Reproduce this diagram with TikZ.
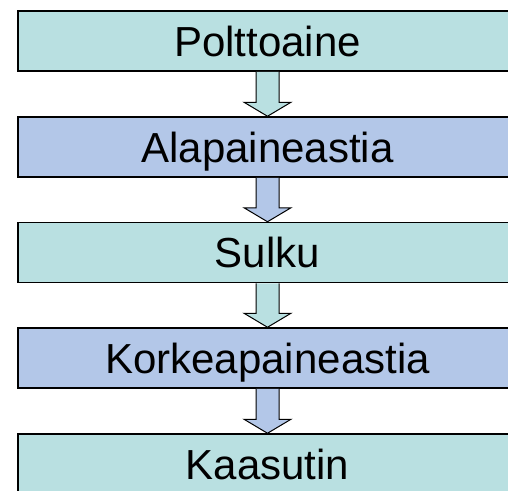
\documentclass[tikz,border=0pt]{standalone}
\usepackage{fontspec}
\setmainfont{Liberation Sans}
\usetikzlibrary{calc}
\definecolor{tealbox}{HTML}{B9E0E1}
\definecolor{bluebox}{HTML}{B3C7E8}
\tikzset{
  stagebox/.style={draw=black, line width=1.5pt, minimum width=499pt, minimum height=60pt,
    inner sep=0pt, text height=30.1pt, text depth=0pt, font=\fontsize{42}{50}\selectfont},
  blockarrow/.style={draw=black, line width=1pt, line join=miter}
}
\newcommand{\flowarrow}[3]{%
  \draw[blockarrow, fill=#3] ($(#1.south)+(-11.5,0)$) -- ($(#2.north)+(-11.5,14)$) -- ($(#2.north)+(-23.5,14)$)
    -- (#2.north) -- ($(#2.north)+(23.5,14)$) -- ($(#2.north)+(11.5,14)$) -- ($(#1.south)+(11.5,0)$);}
\begin{document}
\begin{tikzpicture}[x=1pt,y=1pt]
\useasboundingbox (0,0) rectangle (508,-490);
\clip (0,0) rectangle (508,-490);
\node[stagebox, fill=tealbox] (p) at (267.5,-41) {Polttoaine};
\node[stagebox, fill=bluebox] (a) at (267.5,-147) {Alapaineastia};
\node[stagebox, fill=tealbox] (s) at (267.5,-252.5) {Sulku};
\node[stagebox, fill=bluebox] (k) at (267.5,-358) {Korkeapaineastia};
\node[stagebox, fill=tealbox] (g) at (267.5,-464) {Kaasutin};
\flowarrow{p}{a}{tealbox}
\flowarrow{a}{s}{bluebox}
\flowarrow{s}{k}{tealbox}
\flowarrow{k}{g}{bluebox}
\end{tikzpicture}
\end{document}
